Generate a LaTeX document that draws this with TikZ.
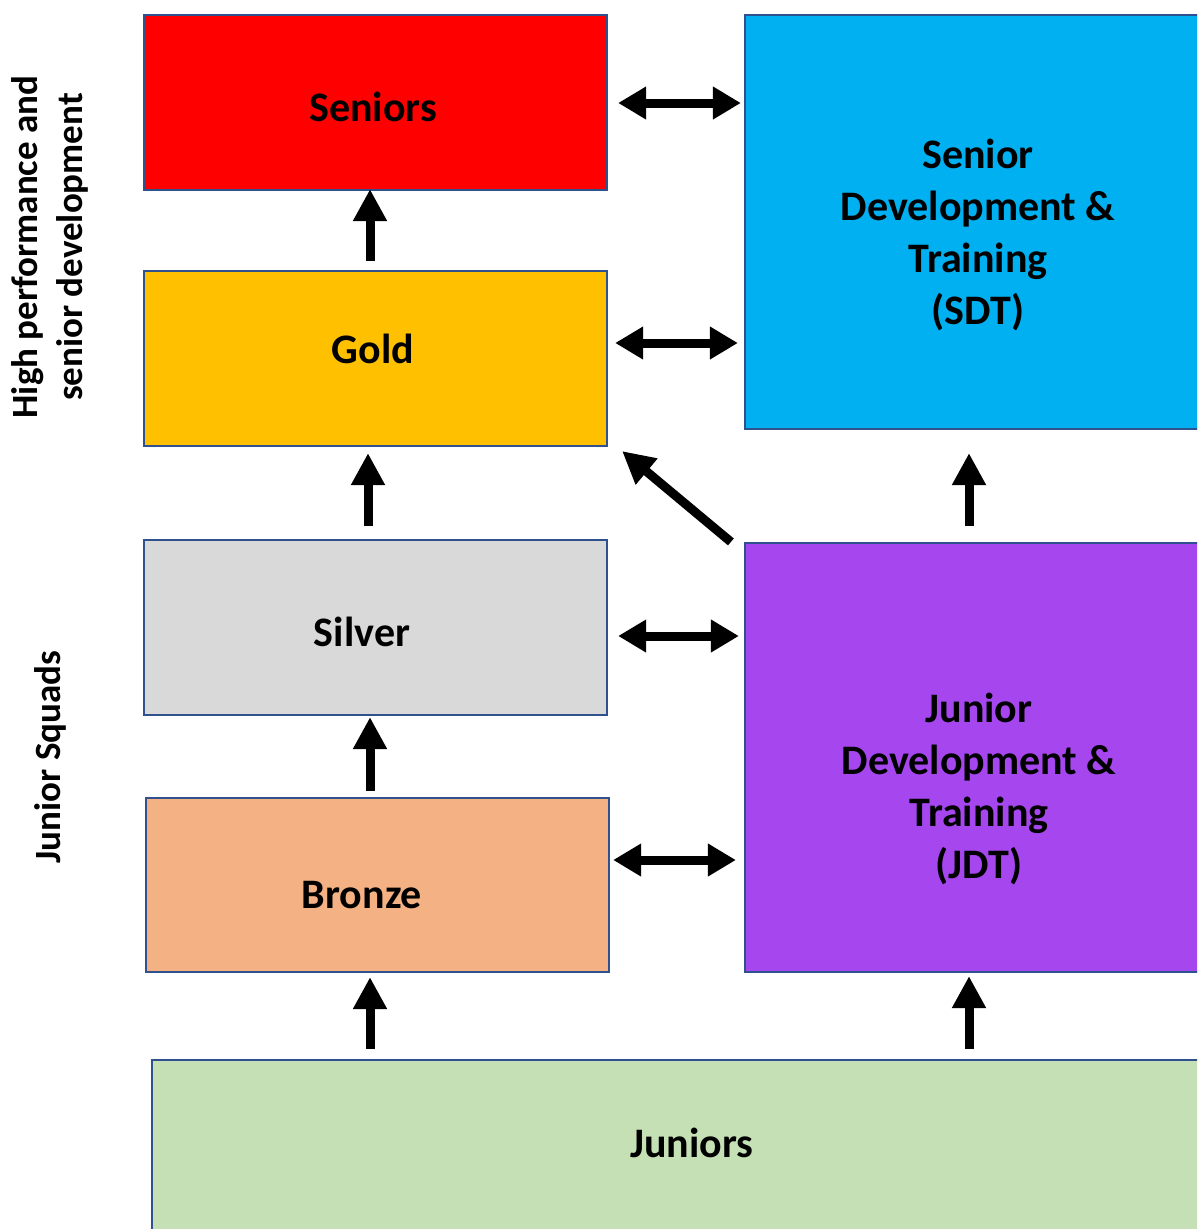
\documentclass[tikz,border=0pt]{standalone}
\usepackage{fontspec}
\setmainfont{Carlito}
\usetikzlibrary{arrows.meta,calc}
\definecolor{edge}{HTML}{2F528F}
\definecolor{cRed}{HTML}{FF0000}
\definecolor{cGold}{HTML}{FFC000}
\definecolor{cSilver}{HTML}{D9D9D9}
\definecolor{cBronze}{HTML}{F4B183}
\definecolor{cSDT}{HTML}{00B0F0}
\definecolor{cJDT}{HTML}{A546EE}
\definecolor{cJun}{HTML}{C5E0B4}
\begin{document}
\begin{tikzpicture}[x=1pt,y=-1pt,
  box/.style={draw=edge, line width=2.2pt, rectangle, inner sep=0pt},
  lbl/.style={font=\bfseries\fontsize{42}{52}\selectfont, align=center, inner sep=0pt},
  side/.style={font=\bfseries\fontsize{37}{45}\selectfont, align=center, rotate=90, inner sep=0pt},
  blk/.style={line width=9pt, -{Triangle[length=32pt,width=32pt]}},
  dbl/.style={line width=9pt, {Triangle[length=28pt,width=31pt]}-{Triangle[length=28pt,width=31pt]}}]
\useasboundingbox (0,0) rectangle (1197,1229);
\clip (0,0) rectangle (1197,1229);

% squad boxes
\node[box, fill=cRed,    minimum width=463pt, minimum height=175pt] (seniors) at (375.5,102.5) {};
\node[box, fill=cGold,   minimum width=463pt, minimum height=175pt] (gold)    at (375.5,358.5) {};
\node[box, fill=cSilver, minimum width=463pt, minimum height=175pt] (silver)  at (375.5,627.5) {};
\node[box, fill=cBronze, minimum width=463pt, minimum height=174pt] (bronze)  at (377.5,885) {};
\node[box, fill=cSDT,    minimum width=466pt, minimum height=414pt] (sdt)     at (978,222) {};
\node[box, fill=cJDT,    minimum width=466pt, minimum height=429pt] (jdt)     at (978,757.5) {};
\node[box, fill=cJun,    minimum width=1080pt, minimum height=180pt] (juniors) at (692,1150) {};

% box texts
\node[lbl] (seniorsT) at (373,107) {Seniors};
\node[lbl] (goldT)    at (373,349) {Gold};
\node[lbl] (silverT)  at (362,632) {Silver};
\node[lbl] (bronzeT)  at (362,895) {Bronze};
\node[lbl] (juniorsT) at (692,1143) {Juniors};
\node[lbl] (sdtT) at (978,235) {Senior\\Development \&\\Training\\(SDT)};
\node[lbl] (jdtT) at (979,788.5) {Junior\\Development \&\\Training\\(JDT)};

% side headings
\node[side] (hp) at (50,247) {High performance and\\senior development};
\node[side] (js) at (50,757) {Junior Squads};

% progression arrows
\draw[blk] ($(gold.north)+(-5.5,-9)$)    -- ($(seniors.south)+(-5.5,-2)$);
\draw[blk] ($(silver.north)+(-7.5,-13)$) -- ($(gold.south)+(-7.5,6)$);
\draw[blk] ($(bronze.north)+(-7.5,-6)$)  -- ($(silver.south)+(-5.5,1)$);
\draw[blk] ($(juniors.north)+(-322,-10)$) -- ($(bronze.south)+(-7.5,4)$);
\draw[blk] ($(juniors.north)+(277,-10)$) -- ($(jdt.south)+(-9,3)$);
\draw[blk] ($(jdt.north)+(-9,-16)$)      -- ($(sdt.south)+(-9,23)$);
\draw[blk] ($(jdt.north west)+(-13,0)$)  -- ($(gold.south east)+(14,4)$);

% two-way links
\draw[dbl] ($(seniors.east)+(10,0.5)$) -- ($(sdt.west)+(-3,-119)$);
\draw[dbl] ($(gold.east)+(7,-15.5)$)   -- ($(sdt.west)+(-6,121)$);
\draw[dbl] ($(silver.east)+(10,8.5)$)  -- ($(jdt.west)+(-5,-121.5)$);
\draw[dbl] ($(bronze.east)+(3,-25)$)   -- ($(jdt.west)+(-8,102.5)$);
\end{tikzpicture}
\end{document}
